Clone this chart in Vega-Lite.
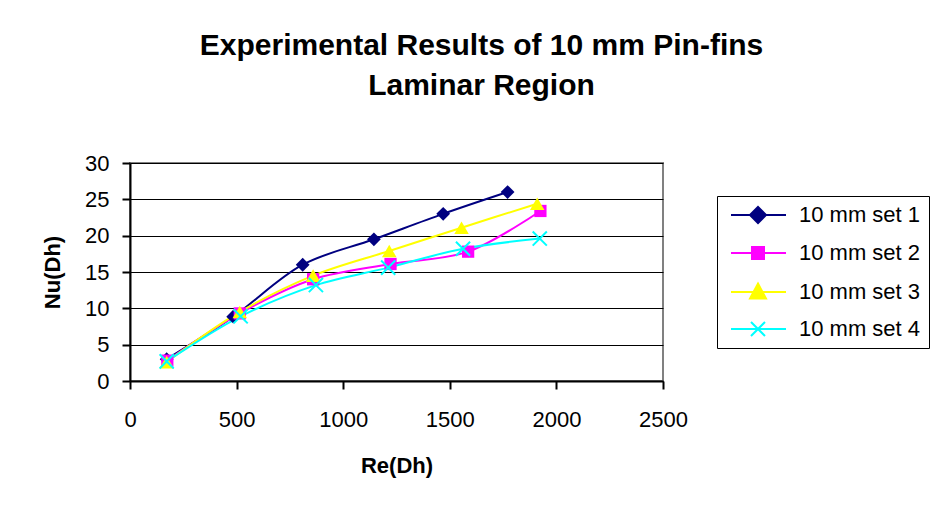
{
  "$schema": "https://vega.github.io/schema/vega-lite/v6.json",
  "width": 533,
  "height": 218,
  "autosize": "none",
  "padding": {"left": 130, "top": 163, "right": 272, "bottom": 127},
  "background": "white",
  "config": {
    "font": "Liberation Sans",
    "view": {"stroke": "#808080", "strokeWidth": 2}
  },
  "title": {
    "text": ["Experimental Results of 10 mm Pin-fins", "Laminar Region"],
    "fontSize": 30,
    "fontWeight": "bold",
    "font": "Liberation Sans",
    "color": "black",
    "anchor": "middle",
    "frame": "group",
    "dx": 85,
    "offset": 51,
    "lineHeight": 40
  },
  "data": {
    "values": [
      {"series": "10 mm set 1", "re": 172, "nu": 3.0},
      {"series": "10 mm set 1", "re": 484, "nu": 8.85},
      {"series": "10 mm set 1", "re": 810, "nu": 16.0},
      {"series": "10 mm set 1", "re": 1144, "nu": 19.5},
      {"series": "10 mm set 1", "re": 1469, "nu": 23.0},
      {"series": "10 mm set 1", "re": 1771, "nu": 26.0},
      {"series": "10 mm set 2", "re": 175, "nu": 2.8},
      {"series": "10 mm set 2", "re": 515, "nu": 9.3},
      {"series": "10 mm set 2", "re": 859, "nu": 14.0},
      {"series": "10 mm set 2", "re": 1222, "nu": 16.1},
      {"series": "10 mm set 2", "re": 1586, "nu": 17.8},
      {"series": "10 mm set 2", "re": 1925, "nu": 23.4},
      {"series": "10 mm set 3", "re": 172, "nu": 2.6},
      {"series": "10 mm set 3", "re": 515, "nu": 9.5},
      {"series": "10 mm set 3", "re": 859, "nu": 14.5},
      {"series": "10 mm set 3", "re": 1216, "nu": 17.9},
      {"series": "10 mm set 3", "re": 1555, "nu": 21.1},
      {"series": "10 mm set 3", "re": 1910, "nu": 24.4},
      {"series": "10 mm set 4", "re": 172, "nu": 2.7},
      {"series": "10 mm set 4", "re": 519, "nu": 8.9},
      {"series": "10 mm set 4", "re": 872, "nu": 13.2},
      {"series": "10 mm set 4", "re": 1211, "nu": 15.6},
      {"series": "10 mm set 4", "re": 1562, "nu": 18.2},
      {"series": "10 mm set 4", "re": 1922, "nu": 19.6}
    ]
  },
  "encoding": {
    "x": {
      "field": "re",
      "type": "quantitative",
      "scale": {"domain": [0, 2500], "nice": false},
      "axis": {
        "values": [0, 500, 1000, 1500, 2000, 2500],
        "format": "d",
        "title": "Re(Dh)",
        "grid": false,
        "domainColor": "black",
        "domainWidth": 2,
        "tickColor": "black",
        "tickWidth": 2,
        "tickSize": 8,
        "labelFontSize": 22,
        "labelColor": "black",
        "labelPadding": 20,
        "labelFlush": false,
        "titleFontSize": 22,
        "titleFontWeight": "bold",
        "titleColor": "black",
        "titlePadding": 25
      }
    },
    "y": {
      "field": "nu",
      "type": "quantitative",
      "scale": {"domain": [0, 30], "nice": false},
      "axis": {
        "values": [0, 5, 10, 15, 20, 25, 30],
        "title": "Nu(Dh)",
        "grid": true,
        "gridColor": "black",
        "gridWidth": 1,
        "gridOpacity": 1,
        "domainColor": "black",
        "domainWidth": 2,
        "tickColor": "black",
        "tickWidth": 2,
        "tickSize": 8,
        "labelFontSize": 22,
        "labelColor": "black",
        "labelPadding": 13,
        "labelFlush": false,
        "titleFontSize": 22,
        "titleFontWeight": "bold",
        "titleColor": "black",
        "titlePadding": 20
      }
    },
    "color": {
      "field": "series",
      "type": "nominal",
      "scale": {
        "domain": ["10 mm set 1", "10 mm set 2", "10 mm set 3", "10 mm set 4"],
        "range": ["#000080", "#FF00FF", "#FFFF00", "#00FFFF"]
      },
      "legend": {
        "orient": "none",
        "legendX": 587,
        "legendY": 33,
        "title": null,
        "labelFontSize": 22,
        "labelColor": "black",
        "labelFont": "Liberation Sans",
        "labelOffset": 52,
        "strokeColor": "black",
        "padding": 8,
        "rowPadding": 15,
        "symbolSize": 100,
        "symbolStrokeWidth": 2,
        "symbolOpacity": 1,
        "encode": {
          "symbols": {
            "update": {
              "shape": {"signal": "datum.value === '10 mm set 1' ? 'M-1,0H10M2.8,0L4.4,-1.6L6,0L4.4,1.6Z' : datum.value === '10 mm set 2' ? 'M-1,0H10M3.2,-1.2H5.6V1.2H3.2Z' : datum.value === '10 mm set 3' ? 'M-1,0H10M4.4,-1.7L6,1.3L2.8,1.3Z' : 'M-1,0H10M3,-1.4L5.8,1.4M3,1.4L5.8,-1.4'"},
              "fill": {"signal": "scale('color', datum.value)"},
              "stroke": {"signal": "scale('color', datum.value)"}
            }
          }
        }
      }
    }
  },
  "layer": [
    {
      "mark": {"type": "line", "interpolate": "catmull-rom", "strokeWidth": 2}
    },
    {
      "transform": [{"filter": "datum.series === '10 mm set 1'"}],
      "mark": {"type": "point", "shape": "diamond", "filled": true, "opacity": 1, "size": 190}
    },
    {
      "transform": [{"filter": "datum.series === '10 mm set 2'"}],
      "mark": {"type": "point", "shape": "square", "filled": true, "opacity": 1, "size": 150}
    },
    {
      "transform": [{"filter": "datum.series === '10 mm set 3'"}],
      "mark": {"type": "point", "shape": "triangle-up", "filled": true, "opacity": 1, "size": 210}
    },
    {
      "transform": [{"filter": "datum.series === '10 mm set 4'"}],
      "mark": {"type": "point", "shape": "M-1,-1L1,1M-1,1L1,-1", "filled": false, "opacity": 1, "strokeWidth": 2, "size": 200}
    }
  ]
}
